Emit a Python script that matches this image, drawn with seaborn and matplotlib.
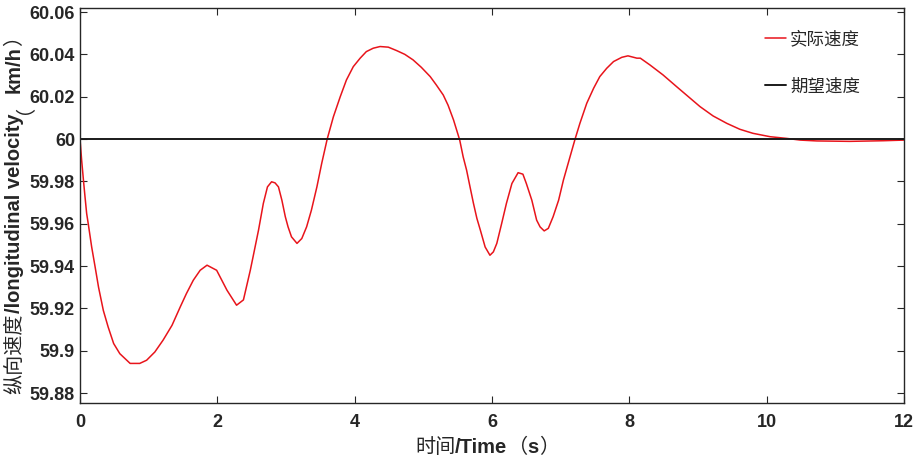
import numpy as np
import pandas as pd
import matplotlib
matplotlib.use("Agg")
import matplotlib.pyplot as plt
import seaborn as sns

time_s = [0.0, 0.024, 0.05, 0.073, 0.097, 0.12, 0.17, 0.22, 0.27, 0.34, 0.41, 0.49,
          0.58, 0.73, 0.87, 0.97, 1.09, 1.21, 1.34, 1.46, 1.55, 1.65, 1.75, 1.85,
          1.99, 2.14, 2.28, 2.38, 2.48, 2.52, 2.60, 2.67, 2.73, 2.79, 2.84, 2.89,
          2.94, 2.99, 3.03, 3.08, 3.16, 3.23, 3.30, 3.37, 3.45, 3.52, 3.60, 3.69,
          3.79, 3.88, 3.98, 4.08, 4.17, 4.27, 4.37, 4.49, 4.61, 4.73, 4.85, 4.97,
          5.10, 5.19, 5.29, 5.36, 5.44, 5.53, 5.58, 5.63, 5.68, 5.73, 5.78, 5.83,
          5.90, 5.97, 6.02, 6.07, 6.14, 6.21, 6.29, 6.38, 6.45, 6.50, 6.58, 6.65,
          6.70, 6.76, 6.82, 6.89, 6.97, 7.04, 7.13, 7.21, 7.28, 7.38, 7.48, 7.57,
          7.67, 7.77, 7.89, 7.98, 8.11, 8.16, 8.30, 8.49, 8.69, 8.86, 9.03, 9.22,
          9.42, 9.61, 9.80, 10.05, 10.29, 10.49, 10.73, 11.21, 11.70, 12.0]
actual_speed = [60.0, 59.990, 59.9806, 59.9727, 59.9648, 59.960, 59.949, 59.9396,
                59.930, 59.919, 59.9112, 59.9034, 59.8986, 59.894, 59.894, 59.8955,
                59.8994, 59.905, 59.912, 59.9207, 59.927, 59.9333, 59.938, 59.9404,
                59.938, 59.9286, 59.9215, 59.924, 59.938, 59.9443, 59.957, 59.9696,
                59.9774, 59.9798, 59.9793, 59.9774, 59.9711, 59.9633, 59.9585, 59.9538,
                59.9507, 59.953, 59.9585, 59.9664, 59.9774, 59.9885, 60.0, 60.0105,
                60.020, 60.0279, 60.0342, 60.0382, 60.0413, 60.0429, 60.0437, 60.0434,
                60.0418, 60.040, 60.0374, 60.0339, 60.0295, 60.0255, 60.0208, 60.016,
                60.0090, 59.9995, 59.9916, 59.9853, 59.9774, 59.9696, 59.9625, 59.957,
                59.949, 59.9451, 59.9467, 59.9507, 59.960, 59.9696, 59.979, 59.9841,
                59.9834, 59.979, 59.9711, 59.9617, 59.9585, 59.9566, 59.9578, 59.9633,
                59.9711, 59.9806, 59.9909, 60.0, 60.0074, 60.0169, 60.024, 60.0295,
                60.0334, 60.0366, 60.0386, 60.0393, 60.0382, 60.0382, 60.035, 60.0303,
                60.0247, 60.020, 60.0153, 60.0109, 60.0074, 60.0046, 60.0027, 60.0011,
                60.0003, 59.9995, 59.9991, 59.9989, 59.9992, 59.9995]
target_time = [0, 12]
target_speed = [60, 60]

labels = ["实际速度", "期望速度"]
x_ticks = [0, 2, 4, 6, 8, 10, 12]
y_ticks = [59.88, 59.9, 59.92, 59.94, 59.96, 59.98, 60, 60.02, 60.04, 60.06]
y_tick_labels = ["59.88", "59.9", "59.92", "59.94", "59.96", "59.98", "60", "60.02", "60.04", "60.06"]
# axis titles: (text, weight) pieces, Chinese in regular, Latin in bold
x_title = [("时间", "normal"), ("/Time", "bold"), ("（", "normal"), ("s", "bold"), ("）", "normal")]
y_title = [("纵向速度", "normal"), ("/longitudinal velocity", "bold"), ("（", "normal"),
           ("km/h", "bold"), ("）", "normal")]

sns.set_style("ticks")
fonts = ["Liberation Sans", "Noto Sans CJK SC", "DejaVu Sans"]
plt.rcParams["font.family"] = fonts
plt.rcParams["xtick.direction"] = "in"
plt.rcParams["ytick.direction"] = "in"

actual = pd.DataFrame({"t": time_s, "v": actual_speed})
target = pd.DataFrame({"t": target_time, "v": target_speed})

W, H = 918, 461
fig, ax = plt.subplots(figsize=(W / 100, H / 100), dpi=100)
fig.subplots_adjust(left=80 / W, right=904 / W, top=1 - 8 / H, bottom=1 - 403 / H)

sns.lineplot(data=actual, x="t", y="v", color="#e8141b", linewidth=1.1, ax=ax, label=labels[0])
sns.lineplot(data=target, x="t", y="v", color="#1a1a1a", linewidth=1.4, ax=ax, label=labels[1])

ax.set_xlim(0, 12)
ax.set_ylim(59.8753, 60.0619)
ax.set_xticks(x_ticks)
ax.set_xticklabels([str(t) for t in x_ticks], fontsize=13, fontweight="bold", color="#262626")
ax.set_yticks(y_ticks)
ax.set_yticklabels(y_tick_labels, fontsize=13, fontweight="bold", color="#262626")
ax.tick_params(top=True, right=True, length=5, width=0.8, color="#262626")
ax.tick_params(axis="x", pad=8)
ax.tick_params(axis="y", pad=3.6)
for s in ax.spines.values():
    s.set_visible(True)
    s.set_color("#262626")
    s.set_linewidth(1.0)
ax.set_xlabel("")
ax.set_ylabel("")

ax.legend(loc="upper right", bbox_to_anchor=(0.955, 0.962), borderaxespad=0, frameon=False,
          fontsize=12.6, handlelength=1.15, handletextpad=0.25, labelspacing=1.8)

# axis titles drawn piece by piece so that only the Latin parts are bold
renderer = fig.canvas.get_renderer()


def draw_title(parts, px, py, rotation):
    pieces = []
    for s, w in parts:
        t = fig.text(0, 0, s, fontsize=14.5, fontweight=w, family=fonts, color="#262626",
                     rotation=rotation, rotation_mode="anchor", ha="left", va="baseline")
        ext = t.get_window_extent(renderer)
        pieces.append((t, ext.height if rotation else ext.width))
    total = sum(p[1] for p in pieces)
    pos = (px if not rotation else py) - total / 2
    for t, size in pieces:
        if rotation:
            t.set_position((px / W, pos / H))
        else:
            t.set_position((pos / W, py / H))
        pos += size


draw_title(x_title, 487, H - 453, 0)
draw_title(y_title, 20, H - 210, 90)

fig.savefig("out.png", dpi=100)
